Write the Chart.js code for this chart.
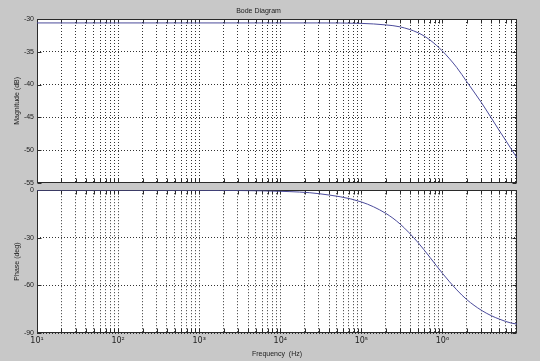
<!DOCTYPE html>
<html>
<head>
<meta charset="utf-8">
<script src="https://cdn.jsdelivr.net/npm/chart.js@4.4.1/dist/chart.umd.min.js"></script>
<style>
  html, body { margin:0; padding:0; background:#c8c8c8; }
  #wrap { position:relative; width:540px; height:361px; overflow:hidden; }
  canvas { position:absolute; left:0; }
  #magChart { top:0; width:540px; height:190px; }
  #phaseChart { top:183px; width:540px; height:178px; }
</style>
</head>
<body>
<div id="wrap">
  <canvas id="magChart" width="540" height="190"></canvas>
  <canvas id="phaseChart" width="540" height="178"></canvas>
</div>
<script>
// values
const freq  = [10, 100, 1e3, 1e4, 3e4, 1e5, 2e5, 3e5, 5e5, 7e5, 1e6, 1.5e6, 2e6, 3e6, 4e6, 5e6, 6e6, 7e6, 8.3e6];
const magDb = [-30.6, -30.6, -30.6, -30.6, -30.6, -30.67, -30.9, -31.2, -32.1, -33.2, -34.9, -37.4, -39.6, -42.7, -45.1, -47.0, -48.5, -49.8, -51.2];
const phaseDeg = [0, 0, -0.1, -0.7, -2.2, -7.4, -14.6, -21.3, -33, -42.3, -52.4, -62.8, -69, -75.6, -79.1, -81.2, -82.7, -83.7, -84.4];

const xMin = 10, xMax = 8.3e6;
const decades = [1e1, 1e2, 1e3, 1e4, 1e5, 1e6];
const decadeLabels = ['10¹', '10²', '10³', '10⁴', '10⁵', '10⁶'];
const minorSteps = [1, 2, 3, 4, 5, 6, 7, 8, 9];
const magTicks = [-55, -50, -45, -40, -35, -30];
const phaseTicks = [-90, -60, -30, 0];

const font = { family: '"Liberation Sans", Arial, sans-serif', size: 7 };
const xFont = { family: '"DejaVu Sans", "Liberation Sans", sans-serif', size: 8 };
const ink = '#222';
const lineColor = '#4b4b9b';

const xTickValues = [];
decades.forEach(d => minorSteps.forEach(m => { if (m * d <= xMax) xTickValues.push(m * d); }));

const framePlugin = {
  id: 'frame',
  beforeDraw(chart) {
    const { ctx, chartArea: a } = chart;
    ctx.save();
    ctx.fillStyle = '#fff';
    ctx.fillRect(a.left, a.top, a.right - a.left, a.bottom - a.top);
    ctx.restore();
  },
  beforeDatasetsDraw(chart) {
    const { ctx, chartArea: a, scales } = chart;
    const L = Math.round(a.left) + 0.5, R = Math.round(a.right) - 0.5;
    const T = Math.round(a.top) + 0.5, B = Math.round(a.bottom) - 0.5;
    ctx.save();
    ctx.strokeStyle = '#2a2a2a';
    ctx.lineWidth = 1;
    ctx.beginPath();
    scales.x.ticks.forEach(t => {
      const px = Math.round(scales.x.getPixelForValue(t.value)) + 0.5;
      ctx.moveTo(px, T); ctx.lineTo(px, T + 4);
      ctx.moveTo(px, B); ctx.lineTo(px, B - 4);
    });
    scales.y.ticks.forEach(t => {
      const py = Math.round(scales.y.getPixelForValue(t.value)) + 0.5;
      ctx.moveTo(L, py); ctx.lineTo(L + 4, py);
      ctx.moveTo(R, py); ctx.lineTo(R - 4, py);
    });
    ctx.stroke();
    ctx.strokeRect(L, T, R - L, B - T);
    ctx.restore();
  }
};

function makePlot(id, values, yTicks, yTitle, opts) {
  const pts = freq.map((f, i) => ({ x: f, y: values[i] }));
  return new Chart(document.getElementById(id), {
    type: 'line',
    data: { datasets: [{ data: pts, borderColor: lineColor, borderWidth: 1, pointRadius: 0, cubicInterpolationMode: 'monotone', fill: false }] },
    options: {
      responsive: false,
      animation: false,
      devicePixelRatio: 1,
      layout: { padding: opts.padding },
      plugins: {
        legend: { display: false },
        tooltip: { enabled: false },
        title: opts.title ? { display: true, text: opts.title, color: ink, font: { ...font, weight: 'normal' }, padding: { top: 7, bottom: 3.6 } } : { display: false }
      },
      scales: {
        x: {
          type: 'logarithmic',
          min: xMin, max: xMax,
          afterBuildTicks: (axis) => { axis.ticks = xTickValues.map(v => ({ value: v })); },
          afterFit: (axis) => { axis.height = opts.showX ? 28 : 0; },
          grid: { color: '#333', lineWidth: 1, drawTicks: false },
          border: { display: false, dash: [1, 2] },
          ticks: {
            display: opts.showX, color: ink, font: xFont, padding: 3, maxRotation: 0, autoSkip: false,
            callback: (v) => { const i = decades.indexOf(v); return i >= 0 ? decadeLabels[i] : ''; }
          },
          title: { display: opts.showX, text: 'Frequency  (Hz)', color: ink, font, padding: { top: 0, bottom: 3 } }
        },
        y: {
          type: 'linear',
          min: yTicks[0], max: yTicks[yTicks.length - 1],
          afterBuildTicks: (axis) => { axis.ticks = yTicks.map(v => ({ value: v })); },
          afterFit: (axis) => { axis.width = 37; },
          grid: { color: '#333', lineWidth: 1, drawTicks: false },
          border: { display: false, dash: [1, 2] },
          ticks: { color: ink, font, padding: 3 },
          title: { display: true, text: yTitle, color: ink, font, padding: { top: 13, bottom: 0 } }
        }
      }
    },
    plugins: [framePlugin]
  });
}

makePlot('magChart', magDb, magTicks, 'Magnitude (dB)', { title: 'Bode Diagram', showX: false, padding: { left: 0, right: 23, top: 0, bottom: 7 } });
makePlot('phaseChart', phaseDeg, phaseTicks, 'Phase (deg)', { showX: true, padding: { left: 0, right: 23, top: 6, bottom: 0 } });
</script>
</body>
</html>
